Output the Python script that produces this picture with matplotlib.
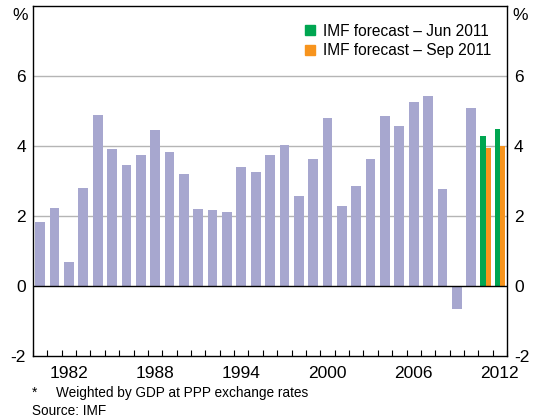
import matplotlib
matplotlib.use("Agg")
import matplotlib.pyplot as plt
import numpy as np
from matplotlib.lines import Line2D

plt.rcParams['font.family'] = ['Liberation Sans', 'DejaVu Sans']

# annual growth, % (1980-2010 actual)
years = list(range(1980, 2011))
growth = [1.83, 2.23, 0.69, 2.80, 4.89, 3.91, 3.46, 3.74, 4.46, 3.83,
          3.20, 2.19, 2.16, 2.11, 3.40, 3.26, 3.74, 4.03, 2.57, 3.63,
          4.80, 2.29, 2.86, 3.63, 4.86, 4.57, 5.26, 5.43, 2.77, -0.67,
          5.09]

# IMF forecasts
fc_years = [2011, 2012]
fc_jun = [4.29, 4.49]
fc_sep = [3.94, 4.00]

tick_years = [1982, 1988, 1994, 2000, 2006, 2012]

bar_col = '#a7a7cf'
jun_col = '#00a651'
sep_col = '#f7941d'

fig = plt.figure(figsize=(5.36, 4.17), dpi=100)
ax = fig.add_axes([0.0616, 0.1463, 0.8844, 0.8393])

ax.bar(years, growth, width=0.68, color=bar_col, zorder=2)
fx = np.array(fc_years)
ax.bar(fx - 0.175, fc_jun, width=0.35, color=jun_col, zorder=2)
ax.bar(fx + 0.175, fc_sep, width=0.35, color=sep_col, zorder=2)

ax.set_xlim(1979.5, 2012.5)
ax.set_ylim(-2, 8)

for y in [2, 4, 6]:
    ax.axhline(y, color='#b5b5b5', lw=1, zorder=1)
ax.axhline(0, color='black', lw=1, zorder=3)

ax.set_yticks([-2, 0, 2, 4, 6])
ax.set_yticklabels(['-2', '0', '2', '4', '6'])
ax.tick_params(axis='y', length=0, labelsize=12.5, labelleft=True,
               labelright=True, pad=5)

ax.set_xticks(tick_years)
ax.set_xticklabels([str(y) for y in tick_years])
ax.set_xticks(np.arange(1979.5, 2012.6, 1), minor=True)
ax.tick_params(axis='x', which='major', length=0, labelsize=12.5, pad=7)
ax.tick_params(axis='x', which='minor', direction='in', length=4,
               width=0.8, color='black')

for s in ax.spines.values():
    s.set_color('black')
    s.set_linewidth(1)

fig.text(0.037, 0.963, '%', fontsize=12.5, ha='center', va='center')
fig.text(0.970, 0.963, '%', fontsize=12.5, ha='center', va='center')

handles = [Line2D([], [], marker='s', ls='none', color=jun_col, markersize=7),
           Line2D([], [], marker='s', ls='none', color=sep_col, markersize=7)]
ax.legend(handles, ['IMF forecast \u2013 Jun 2011', 'IMF forecast \u2013 Sep 2011'],
          loc='upper right', bbox_to_anchor=(0.99, 0.98), frameon=False,
          fontsize=11.2, handlelength=0.7, handletextpad=0.5, labelspacing=0.28,
          borderaxespad=0.3)

fig.text(0.060, 0.057, '*', fontsize=9.8, va='center')
fig.text(0.104, 0.057, 'Weighted by GDP at PPP exchange rates', fontsize=9.8, va='center')
fig.text(0.060, 0.015, 'Source: IMF', fontsize=9.8, va='center')

fig.savefig('out.png', dpi=100)
